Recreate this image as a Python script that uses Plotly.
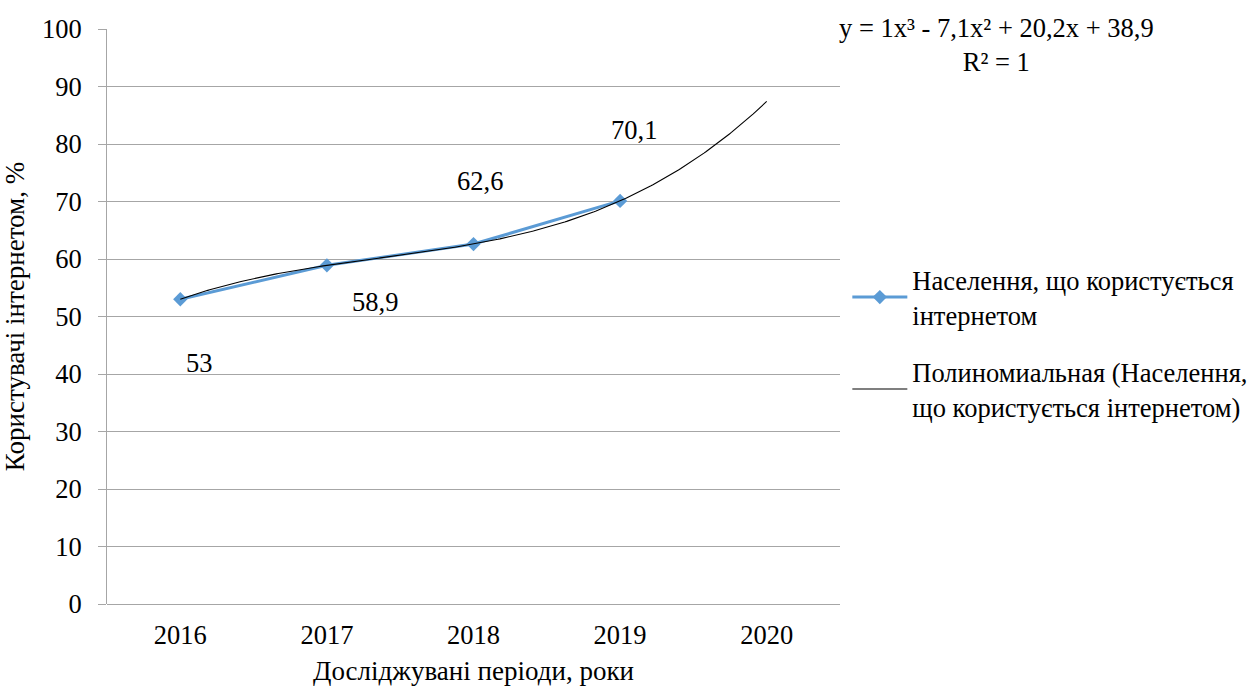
import numpy as np
import plotly.graph_objects as go

# Internet users, share of population (%)
years = [2016, 2017, 2018, 2019]
users_pct = [53, 58.9, 62.6, 70.1]
value_labels = ["53", "58,9", "62,6", "70,1"]
# data-label offsets (px) relative to each point
label_dx = [19, 48, 6, 14]
label_dy = [-64, -37, 63, 71]

tick_years = [2016, 2017, 2018, 2019, 2020]
y_ticks = [0, 10, 20, 30, 40, 50, 60, 70, 80, 90, 100]

# cubic trendline coefficients (x = period index, 2016 -> 1), highest power first
trend_coefs = [1, -7.1, 20.2, 38.9]
trend_text = "y = 1x³ - 7,1x² + 20,2x + 38,9<br>R² = 1"

series_name = "Населення, що користується<br>інтернетом"
trend_name = "Полиномиальная (Населення,<br>що користується інтернетом)"

FONT = "Times New Roman"
SIZE = 26.5
TITLE_SIZE = 27
GRID = "#A6A6A6"
BLUE = "#5B9BD5"

t = np.linspace(1, 5, 300)
trend_x = 2015 + t
trend_y = np.polyval(trend_coefs, t)

fig = go.Figure()
fig.add_trace(go.Scatter(
    x=years, y=users_pct, mode="lines+markers", name=series_name,
    legendgroup="a",
    line=dict(color=BLUE, width=3),
    marker=dict(symbol="diamond", size=11, color=BLUE),
))
fig.add_trace(go.Scatter(
    x=trend_x, y=trend_y, mode="lines", name=trend_name,
    legendgroup="b",
    line=dict(color="black", width=1.1),
))

for x, y, txt, dx, dy in zip(years, users_pct, value_labels, label_dx, label_dy):
    fig.add_annotation(x=x, y=y, text=txt, showarrow=False,
                       xshift=dx, yshift=dy,
                       font=dict(family=FONT, size=SIZE, color="black"))

fig.add_annotation(xref="paper", yref="paper", x=1.213, y=1.032,
                   xanchor="center", yanchor="top", align="center",
                   text=trend_text, showarrow=False,
                   font=dict(family=FONT, size=SIZE, color="black"))

fig.update_layout(
    width=1251, height=686,
    margin=dict(l=107, r=411, t=29, b=82, autoexpand=False),
    paper_bgcolor="white", plot_bgcolor="white",
    font=dict(family=FONT, size=SIZE, color="black"),
    showlegend=True,
    legend=dict(x=1.01, y=0.605, xanchor="left", yanchor="top",
                font=dict(family=FONT, size=SIZE, color="black"),
                tracegroupgap=20, itemwidth=55,
                bgcolor="rgba(0,0,0,0)"),
    xaxis=dict(range=[2015.5, 2020.5], tickvals=tick_years,
               ticktext=[str(v) for v in tick_years],
               tickfont=dict(family=FONT, size=SIZE, color="black"),
               showgrid=False, zeroline=False, automargin=False,
               showline=False, ticks="", ticklabelstandoff=12,
               title=dict(text="Досліджувані періоди, роки", standoff=12,
                          font=dict(family=FONT, size=TITLE_SIZE, color="black"))),
    yaxis=dict(range=[0, 100], tickvals=y_ticks, automargin=False,
               tickfont=dict(family=FONT, size=SIZE, color="black"),
               showgrid=True, gridcolor=GRID, gridwidth=1,
               zeroline=True, zerolinecolor=GRID, zerolinewidth=1,
               showline=True, linecolor=GRID, linewidth=1,
               ticks="outside", ticklen=8, tickcolor=GRID,
               ticklabelstandoff=11,
               title=dict(text="Користувачі інтернетом, %", standoff=10,
                          font=dict(family=FONT, size=TITLE_SIZE, color="black"))),
)

fig.write_html("out.html")
